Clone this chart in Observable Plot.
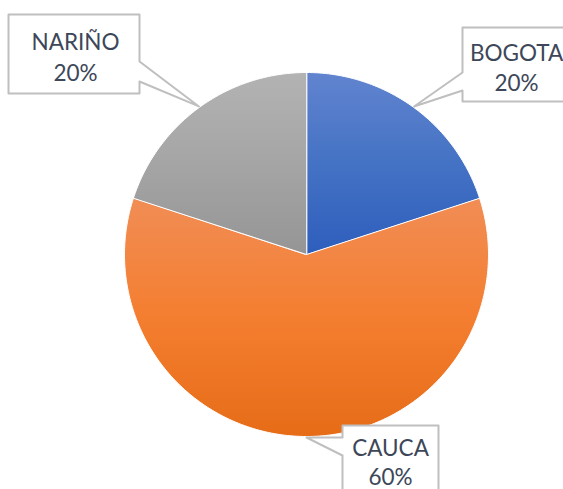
<!DOCTYPE html>
<html>
<head>
<meta charset="utf-8">
<script src="https://cdn.jsdelivr.net/npm/d3@7"></script>
<script src="https://cdn.jsdelivr.net/npm/@observablehq/plot@0.6"></script>
<style>
  html, body { margin: 0; padding: 0; background: #fff; overflow: hidden; }
  #chart { width: 563px; height: 489px; }
</style>
</head>
<body>
<div id="chart"></div>
<script>
// ---- data ----
const categories = ["BOGOTA", "CAUCA", "NARIÑO"];
const values = [20, 60, 20];           // percent
const percentLabels = ["20%", "60%", "20%"];

// ---- layout ----
const W = 563, H = 489;
const cx = 306, cy = 254, R = 182;
const gradStops = {
  BOGOTA: ["#6184cf", "#4472c4", "#2e5ebd"],
  CAUCA:  ["#f18d55", "#f47e30", "#e66c17"],
  "NARIÑO": ["#b3b3b3", "#a5a5a5", "#959595"]
};
// label boxes (layout): rectangle, side where the pointer leaves, pointer base ya..yb,
// text centre tx and first/second baselines b1/b2
const boxes = {
  BOGOTA: {x0: 462, y0: 27, x1: 575, y1: 101, side: "left", ya: 72, yb: 90, tx: 516, b1: 60, b2: 90},
  CAUCA:  {x0: 342, y0: 425, x1: 438, y1: 505, side: "left", ya: 437, yb: 455, tx: 390, b1: 455, b2: 484},
  "NARIÑO": {x0: 8, y0: 14, x1: 139, y1: 93, side: "right", ya: 61, yb: 81, tx: 75, b1: 49, b2: 80}
};

const data = categories.map((c, i) => ({name: c, value: values[i], label: percentLabels[i]}));
const arcs = d3.pie().sort(null).value(d => d.value)(data);

const polar = (a, r) => [cx + r * Math.sin(a), cy - r * Math.cos(a)];

// wedge outlines
const wedgePts = [];
for (const a of arcs) {
  const n = Math.max(2, Math.ceil((a.endAngle - a.startAngle) / (Math.PI / 180)));
  wedgePts.push({name: a.data.name, x: cx, y: cy});
  for (let k = 0; k <= n; k++) {
    const t = a.startAngle + (a.endAngle - a.startAngle) * k / n;
    const [x, y] = polar(t, R);
    wedgePts.push({name: a.data.name, x, y});
  }
}

// callout boxes
const calloutPts = [];
const labelPts = [];
for (const a of arcs) {
  const name = a.data.name;
  const b = boxes[name];
  const mid = (a.startAngle + a.endAngle) / 2;
  const [tx, ty] = polar(mid, R + 1);
  let pts;
  if (b.side === "left") {
    pts = [[b.x0, b.y0], [b.x1, b.y0], [b.x1, b.y1], [b.x0, b.y1], [b.x0, b.yb], [tx, ty], [b.x0, b.ya]];
  } else {
    pts = [[b.x0, b.y0], [b.x1, b.y0], [b.x1, b.ya], [tx, ty], [b.x1, b.yb], [b.x1, b.y1], [b.x0, b.y1]];
  }
  for (const [x, y] of pts) calloutPts.push({name, x, y});
  labelPts.push({name, x: b.tx, y: b.b1, text: name});
  labelPts.push({name, x: b.tx, y: b.b2, text: a.data.label});
}

const gradUrls = categories.map((c, i) => `url(#grad${i})`);

const plot = Plot.plot({
  width: W,
  height: H,
  margin: 0,
  axis: null,
  x: {domain: [0, W], range: [0, W]},
  y: {domain: [0, H], range: [0, H]},
  color: {type: "ordinal", domain: categories, range: gradUrls},
  style: {background: "#fff", overflow: "hidden"},
  marks: [
    Plot.line(wedgePts, {x: "x", y: "y", z: "name", fill: "name", stroke: "#ffffff", strokeWidth: 1, curve: "linear-closed"}),
    Plot.line(calloutPts, {x: "x", y: "y", z: "name", fill: "#ffffff", stroke: "#bfbfbf", strokeWidth: 2, curve: "linear-closed"}),
    Plot.text(labelPts, {x: "x", y: "y", text: "text", fill: "#3d4759", fontSize: 22.5, fontFamily: "Lato, 'Open Sans', sans-serif", textAnchor: "middle", lineAnchor: "bottom"})
  ]
});

// gradient definitions (one vertical gradient per slice)
const defs = d3.create("svg:defs");
categories.forEach((c, i) => {
  const g = defs.append("linearGradient").attr("id", `grad${i}`)
    .attr("x1", 0).attr("y1", 0).attr("x2", 0).attr("y2", 1);
  gradStops[c].forEach((col, k) => g.append("stop").attr("offset", `${k * 50}%`).attr("stop-color", col));
});
plot.insertBefore(defs.node(), plot.firstChild);

document.getElementById("chart").appendChild(plot);
</script>
</body>
</html>
